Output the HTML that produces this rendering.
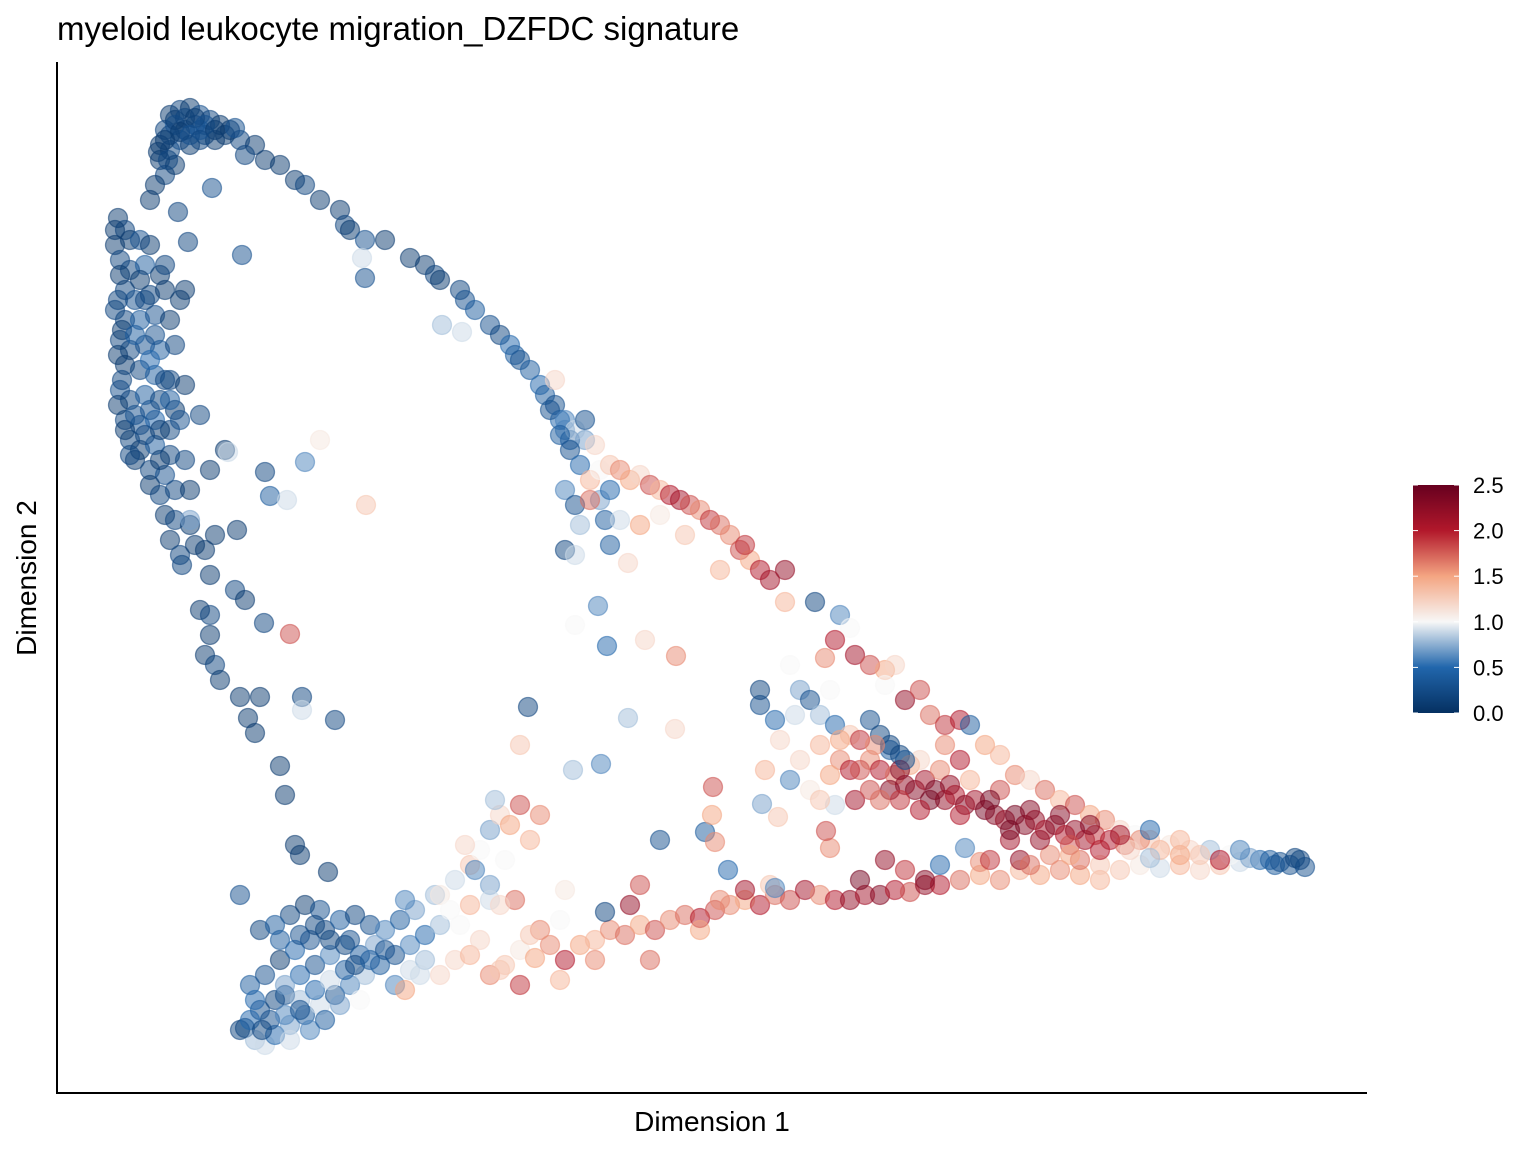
<!DOCTYPE html>
<html><head><meta charset="utf-8"><style>
html,body{margin:0;padding:0;background:#fff;}
svg{display:block;font-family:"Liberation Sans",Arial,sans-serif;}
</style></head><body>
<svg id="chart" width="1536" height="1152" viewBox="0 0 1536 1152">
<rect width="1536" height="1152" fill="#fff"/>
<text x="57" y="40" font-size="33" fill="#000">myeloid leukocyte migration_DZFDC signature</text>
<g id="points"></g>
<line x1="57" y1="62" x2="57" y2="1094" stroke="#000" stroke-width="2"/>
<line x1="56" y1="1093" x2="1367" y2="1093" stroke="#000" stroke-width="2"/>
<text x="712" y="1131" font-size="28" text-anchor="middle">Dimension 1</text>
<text transform="translate(36,578) rotate(-90)" font-size="28" text-anchor="middle">Dimension 2</text>
<defs><linearGradient id="cbar" x1="0" y1="1" x2="0" y2="0">
<stop offset="0" stop-color="#053061"/><stop offset="0.2" stop-color="#2166ac"/><stop offset="0.4" stop-color="#f7f7f7"/><stop offset="0.6" stop-color="#f4a582"/><stop offset="0.8" stop-color="#b2182b"/><stop offset="1" stop-color="#67001f"/>
</linearGradient></defs>
<rect x="1413" y="485" width="46" height="228" fill="url(#cbar)"/>
<g id="legend"></g>
</svg>
<script>
const dim1 = [
17,18,19,20,21,22,23,16.5,17.5,18.5,19.5,20.5,21.5,16,17,18,19,20,16,16.5,17.5,15.5,15,24,25.5,26.5,24.5,21.2,17.8,
28,29.5,30.5,32,34,34.5,35,36.5,38.5,41,42.5,43.5,44,46,46.5,47.5,49,50,51,51.5,52,53,54,54.5,55.5,56,56.5,57,36.2,36.5,44.2,46.2,24.2,18.8,
11.8,12.5,13,11.5,14,15,12,13,14.5,16,12.5,13.5,15,16.5,18.5,11.5,12.5,14,15.5,17,12,13,14.5,16,17.5,12.5,14,15.5,17,18.5,12,13,14.5,16,17.5,12.5,14,15.5,17,13,14,15.5,17,18.5,13.5,15,16.5,15,16,17.5,19,16.5,17.5,19,17,18,19.5,20.5,21,20,22.5,16.5,18,19,18.2,21,
21.5,23.7,23.5,24.5,20,21,21,20.5,21.5,22,24,26,24.8,25.5,28,28.5,29.5,30,32.8,33.5,30.2,26.4,24,26.5,27,
22.8,28.7,30.5,32,36.6,29,30.2,
24.5,25.5,26.5,27.5,29,30.5,32,33.5,35,36.5,38,39.5,41,42.5,44,26,27.5,25,26.5,28,29.5,31,32.5,34,35.5,37,38.5,40,41.5,29,30.5,32,26,27.5,30,31.5,33,34.5,36,37.5,28.5,30,31.5,33,34.5,36,27,29,31,32.5,24,25.5,28.5,39.5,41,42.5,35,40.5,43.5,49,44,
45.5,47,49,50.5,52,53.5,55,56.5,58,59.5,61,62.5,64,65.5,67,68.5,70,71.5,73,74.5,76,77.5,79,80.5,82,83.5,85,86.5,88,89.5,91,92.5,94,96,98,100,102,104,106,108,110,112,114,116,118,120,122,124,126,127.5,129,130.5,130,
64,63,72,74.5,77,86,88.5,90.5,92.5,98,56,54,52,60.5,66,70.5,71.5,65,70,48,50,
44,45.5,47,48,49,50,51,52,53,54,49.5,46.5,50.5,52,56.5,49,45,47.5,51.5,
52.8,57.5,59.8,60.7,64.5,67.6,62.8,67.5,57.3,60.1,71.3,71.2,76.2,77.8,83,82.6,72.8,77.5,
55,56.5,57.5,58.5,59.5,56,57,58,59,60,61,62,63,64,65,66,67,68,69,70,71,72,73,74,75,76,77,78.5,72,74.5,56.5,57.5,58,56.5,57.5,60.5,62,62.8,61,64,66,68.5,60,55.5,58.5,59,61,
81.5,84,85,83.5,82.5,85.5,87,88.5,88.5,89.5,78.5,90.5,92,93,94.5,96,97,98.5,100,101.5,103,104.5,106,107.5,109,110.5,112,113.5,115,117,119,121,123,125,127,
76,77.5,79,80,81,82,83.5,85,87,88,89,90,91,86,87,88,89.5,90.5,91.5,92.5,93.5,94.5,95.5,96.5,97.5,98.5,99.5,100.5,101.5,102.5,103.5,104.5,105.5,106.5,107.5,108.5,109.5,111,112.5,114,116,118,120,122,100,97,94,92,105,102,99,110,108,82,84,80,79,81,83,85,85.5,83.5,82,78,76.5,94.5,96,96.5,94,101,107,113,115,87,89,90,83,76,79.5,
17.5,18.5,19.5,20.5,21.5,17,18,19,16.5,20,22.5,15.8,16.8,23.5,
11.5,12,11.8,12.2,11.8,12.2,11.8,12.5,13,13.5,13.5,14.5,15,15,16,14.5,16,17,18,16.5,14,15.5,
90,93,95,96,99,101,103,104,106,109,110,112,107,103,92,88,86,84,89,90.5,87.5,115,118,124,128,129.5,
25,26.2,28.5,30,34,35.5,37,38.5,33,30,31.5,28,42,40.5,46,47,50,53,59.5,56
];
const dim2 = [
97.8,98.3,98.5,97.8,97.3,96.8,96.3,96.3,96.8,96.3,96.8,95.8,95.3,94.8,94.3,95.3,94.8,96.3,93.3,91.8,92.8,90.8,89.3,95.3,94.8,93.3,93.8,90.5,88.1,
92.8,91.3,90.8,89.3,88.3,86.8,86.3,85.3,85.3,83.5,82.8,81.8,81.3,80.3,79.3,78.3,76.8,75.8,74.8,73.8,73.3,72.3,70.8,69.8,68.8,67.3,66.3,65.3,83.5,81.5,76.8,76.1,83.8,85.1,
87.5,86.3,85.3,84.8,85.3,84.8,83.3,82.3,82.8,81.8,80.3,79.3,79.8,80.3,80.3,78.3,77.3,77.3,77.8,77.3,75.3,74.3,74.8,74.3,74.8,72.8,72.3,71.8,71.3,70.8,70.3,69.3,69.8,69.3,68.3,67.3,66.8,67.3,66.3,65.3,64.3,64.8,63.8,63.3,63.3,62.3,61.8,60.8,59.8,60.3,60.3,57.8,57.3,56.8,55.3,53.8,54.8,54.3,62.3,67.8,64.3,71.3,67.3,57.3,52.8,51.8,
55.8,56.3,50.3,49.3,48.3,47.8,45.8,43.8,42.8,41.3,39.6,39.6,37.5,36,32.7,29.8,24.8,23.8,22.1,37.3,39.6,47,19.8,62.1,59.7,
64.1,59.3,63.1,65.3,58.8,45.9,38.3,
6.5,5.3,4.8,5.8,6.8,7.8,8.8,9.8,10.8,11.8,12.8,13.8,14.8,15.8,16.8,8.3,9.3,10.8,11.8,13.3,14.3,15.3,16.3,17.3,17.8,16.8,16.3,17.3,18.3,17.8,18.8,18.3,16.3,16.8,11.8,12.8,13.8,14.8,13.8,14.8,9.8,9.3,10.3,11.3,12.3,9.3,7.3,5.3,6.3,7.3,6.3,9.3,10.8,10.8,12.3,13.3,15.3,19.3,19.8,20.8,11.8,
13.3,13.8,11.8,12.8,14.3,13.5,14.8,13.3,14.8,15.3,16.3,15.8,16.8,16.3,17.3,17.8,17.5,18.3,18.8,19.3,18.8,19.8,19.3,20.3,19.8,19.3,19.3,19.8,19.8,20.3,20.1,20.8,20.8,21.3,21.8,21.3,22.3,21.8,22.3,21.8,21.3,22.3,22.8,22.5,22.8,22.3,22.8,23.1,23.3,22.8,22.8,22.6,23.3,
20.8,18.8,19.3,20.3,20.8,21.3,23.3,22.3,21.3,23.1,17.3,16.3,10.8,18.1,25.3,26.1,25.1,13.3,16.3,15.3,12.3,
19.8,21.3,22.8,24.3,26.3,27.8,26.8,28.8,25.3,27.8,29.3,24.8,23.3,34.8,20.3,19.3,18.3,22.3,19.3,
38.6,46.8,48.7,44.7,45.3,43.7,37.5,36.4,32.3,32.9,30.6,27.8,28.9,27.6,24.5,26.2,22.3,20.5,
68.3,67.3,66.3,65.3,64.8,65.8,64.3,62.8,61.3,62.3,62.8,62.3,61.3,61.8,60.8,60.3,59.8,59.3,58.8,58.3,57.3,56.8,55.8,54.3,53.3,52.3,51.3,52.3,52.3,54.8,60.3,58.8,56.8,54.3,53.8,57.3,57.3,53,54.8,56.8,57.8,55.8,59.3,71.3,67.3,59.3,60.3,
49.1,47.8,46.5,45.3,43.5,43.8,42.8,42.3,40.8,42.8,49.1,39.3,40.3,37.8,36.8,37.3,36.8,34.8,33.8,31.8,31.3,30.3,29.3,28.8,27.8,27.3,26.3,25.8,25.3,24.8,24.3,24.3,23.8,23.5,23.3,
38.8,37.3,42.8,40.3,39.3,37.8,36.8,35.8,37.3,35.8,34.3,33.8,32.8,35.3,33.3,32.3,31.8,30.8,30.3,31.3,30.3,29.3,29.8,28.8,29.3,28.3,27.8,27.3,27.8,26.8,27.3,26.3,26.8,25.8,26.3,25.3,25.8,25.3,24.8,25.3,24.3,23.8,23.8,23.3,30.3,31.3,32.3,33.3,23.8,23.3,23.3,22.8,23.3,34.8,33.3,33.3,31.3,30.3,31.8,32.3,29.3,28.8,29.3,35.3,32.3,34.8,33.3,24.5,22.8,25.3,24.8,24.3,23.5,30.3,30.3,29.3,40.3,40.3,37.8,
97.3,97.5,97.5,96.8,96.3,95.8,96.1,95.8,95.3,95.3,95.8,94.1,93.3,96.5,
86.3,81.8,79.3,76.3,73.8,71.3,68.8,66.3,63.8,67.8,75.8,79.3,73.3,68.3,66.3,65.8,63.3,69.3,79.3,82.8,81.3,75.8,
32.3,29.3,30.8,27.8,29.3,26.3,28.3,25.3,27.8,26.8,24.3,25.8,23.8,22.8,28.3,29.3,32.3,35.3,34.8,33.3,34.8,26.3,25.3,24.3,23.1,23.5,
7.3,6.3,7.8,8.3,8.8,12.8,13.3,14.3,15.3,15.8,16.8,15.3,11.8,10.3,16.8,18.8,18.8,15.8,13.3,11.3
];
const score = [
0.1,0.2,0.1,0.3,0.2,0.1,0.1,0.2,0.4,0.1,0.3,0.2,0.1,0.1,0.2,0.3,0.1,0.4,0.1,0.2,0.1,0.1,0.1,0.2,0.1,0.1,0.2,0.3,0.2,
0.1,0.1,0.2,0.1,0.1,0.2,0.1,0.3,0.1,0.1,0.1,0.2,0.1,0.2,0.3,0.4,0.3,0.2,0.5,0.4,0.3,0.4,0.5,0.4,0.3,0.5,0.6,0.4,0.9,0.3,0.8,0.9,0.3,0.2,
0.1,0.2,0.1,0.1,0.3,0.1,0.2,0.2,0.4,0.1,0.2,0.3,0.2,0.1,0.1,0.2,0.2,0.4,0.3,0.1,0.2,0.2,0.3,0.4,0.2,0.1,0.2,0.4,0.2,0.1,0.3,0.2,0.4,0.2,0.1,0.2,0.3,0.5,0.2,0.2,0.1,0.4,0.2,0.2,0.1,0.2,0.3,0.1,0.2,0.2,0.1,0.1,0.2,0.1,0.1,0.2,0.1,0.1,0.1,0.2,0.1,0.2,0.3,0.7,0.2,0.1,
0.1,0.1,0.2,0.1,0.1,0.2,0.1,0.1,0.2,0.1,0.1,0.1,0.1,0.1,0.1,0.1,0.1,0.1,0.1,0.2,0.2,0.2,0.3,0.2,0.4,
0.9,0.9,0.6,1.1,1.3,1.8,0.9,
0.2,0.8,0.9,0.5,0.7,0.4,0.9,0.3,0.6,0.8,0.4,0.3,0.6,0.5,0.8,0.3,0.2,0.4,0.3,0.1,0.5,0.3,0.2,0.4,0.2,0.3,0.6,0.4,0.7,0.2,0.1,0.3,0.2,0.4,0.5,0.3,0.6,0.2,0.4,0.7,0.3,0.8,0.5,0.9,0.4,1.0,0.3,0.9,0.6,0.4,0.2,0.5,0.7,0.6,0.9,0.8,0.3,0.6,0.8,0.7,1.2,
1.2,1.4,1.6,1.3,1.1,1.5,1.6,2.0,1.5,1.4,1.6,1.7,1.5,1.8,1.6,1.7,2.0,1.8,1.6,1.5,2.0,1.7,1.8,2.1,1.6,2.0,2.2,2.1,2.3,2.0,1.8,2.2,2.0,1.7,1.5,1.6,1.4,1.5,1.6,1.5,1.4,1.3,1.1,0.9,1.4,1.2,1.3,0.9,0.5,0.4,0.3,0.3,0.2,
1.8,2.2,1.6,2.1,1.3,2.4,2.2,1.9,2.3,1.6,1.0,1.6,1.9,0.2,0.3,0.4,1.6,1.7,1.5,1.2,1.3,
1.1,0.9,1.3,1.0,0.7,1.2,1.5,1.8,1.4,1.6,0.8,1.2,1.0,1.3,1.1,0.9,1.0,0.6,1.7,
0.2,1.0,0.6,0.5,1.2,1.6,0.8,1.2,0.8,0.6,1.8,1.5,0.7,1.3,1.6,1.8,0.5,0.6,
0.3,0.6,0.9,0.7,1.2,0.4,0.3,0.5,1.4,1.0,1.3,1.6,1.5,1.2,1.8,1.4,2.0,2.1,1.8,1.6,1.9,1.7,1.6,1.8,1.5,2.0,2.1,2.2,1.4,1.9,0.6,0.3,0.8,0.2,0.9,0.4,0.9,1.2,0.4,1.5,1.1,1.3,0.7,1.2,0.3,1.7,0.5,
0.2,0.6,1.0,2.0,1.6,2.1,1.8,1.5,1.0,1.2,1.4,2.2,1.8,1.7,1.9,2.0,0.4,1.5,1.4,1.6,1.2,1.7,1.4,1.8,1.5,1.6,1.2,1.0,1.3,1.1,1.2,0.8,1.0,0.7,0.4,
0.3,0.5,1.0,0.7,0.3,0.8,0.5,1.3,0.3,0.2,0.4,0.2,1.5,1.9,1.6,2.0,1.7,2.2,2.3,2.1,2.4,2.2,2.0,2.3,2.1,2.4,2.3,2.2,2.4,2.3,2.2,2.1,2.3,2.0,2.2,2.1,1.9,2.0,1.7,1.6,1.4,1.5,1.3,2.0,1.8,1.4,1.6,1.2,1.6,2.2,1.9,1.3,1.7,1.4,1.6,1.2,0.6,1.1,1.5,2.0,2.1,0.9,1.3,1.2,1.4,1.6,2.0,0.6,0.5,2.1,1.8,1.2,0.8,1.8,2.3,1.9,1.0,0.2,0.9,
0.1,0.2,0.1,0.3,0.1,0.2,0.1,0.3,0.1,0.2,0.1,0.1,0.2,0.3,
0.1,0.1,0.2,0.1,0.1,0.2,0.1,0.1,0.2,0.3,0.4,0.2,0.5,0.3,0.1,0.2,0.1,0.4,0.1,0.2,0.1,0.3,
2.3,2.4,2.2,2.0,2.4,2.4,2.3,2.2,2.3,2.3,2.0,2.1,1.5,1.7,2.0,1.7,1.8,1.5,0.2,0.3,1.6,0.5,1.4,0.6,0.3,0.2,
0.5,0.2,0.6,0.3,0.7,0.2,0.4,0.3,0.2,0.3,0.2,0.4,0.9,1.5,1.0,1.4,1.2,1.3,1.6,1.4
];
const legendTicks = [0.0, 0.5, 1.0, 1.5, 2.0, 2.5];

const SVGNS = "http://www.w3.org/2000/svg";
function sx(v){ return 57 + (v - 5.7) * 10; }
function sy(v){ return 1093 - v * 10; }
function sc(v){ return 713 - (v / 2.5) * 228; }
const stops = [[0,[5,48,97]],[0.5,[33,102,172]],[1.0,[247,247,247]],[1.5,[244,165,130]],[2.0,[178,24,43]],[2.5,[103,0,31]]];
function color(v){
  v = Math.max(0, Math.min(2.5, v));
  for (let i = 0; i < stops.length - 1; i++) {
    const a = stops[i], b = stops[i+1];
    if (v <= b[0]) {
      const t = (v - a[0]) / (b[0] - a[0]);
      const c = a[1].map((x, k) => Math.round(x + (b[1][k] - x) * t));
      return "rgb(" + c.join(",") + ")";
    }
  }
  return "rgb(103,0,31)";
}
const g = document.getElementById("points");
const n = Math.min(dim1.length, dim2.length, score.length);
for (let i = 0; i < n; i++) {
  const c = document.createElementNS(SVGNS, "circle");
  c.setAttribute("cx", sx(dim1[i]));
  c.setAttribute("cy", sy(dim2[i]));
  c.setAttribute("r", 9.5);
  const col = color(score[i]);
  c.setAttribute("fill", col);
  c.setAttribute("fill-opacity", 0.5);
  c.setAttribute("stroke", col);
  c.setAttribute("stroke-opacity", 0.55);
  c.setAttribute("stroke-width", 1.3);
  
  
  g.appendChild(c);
}
const lg = document.getElementById("legend");
legendTicks.forEach(t => {
  const y = sc(t);
  [[1413,1418],[1454,1459]].forEach(p => {
    const l = document.createElementNS(SVGNS, "line");
    l.setAttribute("x1", p[0]); l.setAttribute("x2", p[1]);
    l.setAttribute("y1", y); l.setAttribute("y2", y);
    l.setAttribute("stroke", "#fff"); l.setAttribute("stroke-width", 1);
    
    
    lg.appendChild(l);
  });
  const tx = document.createElementNS(SVGNS, "text");
  tx.setAttribute("x", 1473);
  tx.setAttribute("y", y + 8);
  tx.setAttribute("font-size", 22);
  tx.textContent = t.toFixed(1);
  
  
  lg.appendChild(tx);
});
</script>
</body></html>
